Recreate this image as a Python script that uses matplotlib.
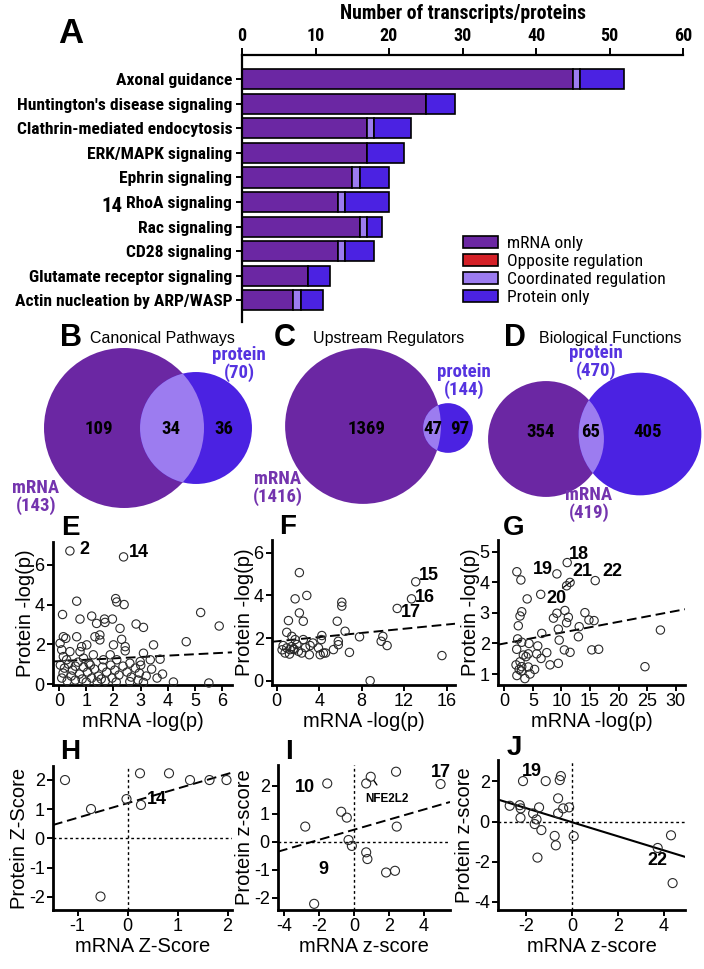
import numpy as np
import matplotlib
matplotlib.use('Agg')
import matplotlib.pyplot as plt
from matplotlib.patches import Circle, Patch
import matplotlib.font_manager as fm
from matplotlib.font_manager import FontProperties

# ---------------- data ----------------
pathways = ["Axonal guidance", "Huntington's disease signaling", "Clathrin-mediated endocytosis",
            "ERK/MAPK signaling", "Ephrin signaling", "RhoA signaling", "Rac signaling",
            "CD28 signaling", "Glutamate receptor signaling", "Actin nucleation by ARP/WASP"]
mrna_only = [45, 25, 17, 17, 15, 13, 16, 13, 9, 7]
opposite = [0, 0, 0, 0, 0, 0, 0, 0, 0, 0]
coordinated = [1, 0, 1, 0, 1, 1, 1, 1, 0, 1]
protein_only = [6, 4, 5, 5, 4, 6, 2, 4, 3, 3]
series_names = ["mRNA only", "Opposite regulation", "Coordinated regulation", "Protein only"]
bar_ticks = [0, 10, 20, 30, 40, 50, 60]

venn_letters = ["B", "C", "D"]
venn_titles = ["Canonical Pathways", "Upstream Regulators", "Biological Functions"]
venn_mrna_only = [109, 1369, 354]
venn_both = [34, 47, 65]
venn_protein_only = [36, 97, 405]
venn_mrna_total = [143, 1416, 419]
venn_protein_total = [70, 144, 470]

e_x = [0.40, 2.37, 0.65, 2.08, 2.12, 2.39, 0.13, 0.77, 1.20, 1.38, 1.67, 1.69, 1.96, 2.24, 2.83, 3.10,
       5.20, 5.88, 4.67, 3.47, 0.16, 0.25, 0.65, 1.32, 1.50, 1.50, 2.30, 2.00, 2.43, 2.43,
       0.04, 0.10, 0.40, 0.83, 0.77, 1.02, 1.26, 3.10, 3.71, 3.35, 2.98, 1.88, 2.12, 0.16, 0.28, 0.90, 1.63,
       0.05, 0.20, 0.35, 0.50, 0.60, 0.75, 0.90, 1.05, 1.15, 1.30, 1.45, 1.60, 1.75, 1.90, 2.05, 2.20,
       2.35, 2.50, 2.65, 2.80, 2.95, 3.20, 3.40, 3.60, 3.80, 0.10, 0.30, 0.45, 0.60, 0.85, 1.00, 1.20,
       1.40, 1.55, 1.70, 1.95, 2.10, 2.60, 2.90, 3.10, 4.20, 5.50, 0.15, 0.70, 1.10, 2.60, 3.00]
e_y = [6.70, 6.40, 4.17, 4.30, 4.13, 4.00, 3.50, 3.27, 3.42, 3.05, 3.27, 3.10, 3.27, 2.80, 3.02, 2.85,
       3.60, 2.92, 2.13, 1.97, 2.38, 2.30, 2.38, 2.38, 2.47, 2.22, 2.25, 1.97, 1.88, 1.67,
       2.05, 1.72, 1.63, 1.88, 1.63, 1.97, 1.47, 1.55, 1.25, 1.22, 1.13, 1.47, 1.22, 1.38, 1.22, 1.30, 1.22,
       0.95, 0.80, 1.00, 0.70, 0.90, 0.50, 0.85, 0.60, 0.95, 0.75, 0.40, 0.85, 0.60, 0.95, 0.70, 0.45,
       0.90, 0.60, 0.35, 0.80, 0.55, 0.40, 0.75, 0.30, 0.50, 0.30, 0.15, 0.40, 0.20, 0.25, 0.10, 0.30,
       0.10, 0.25, 0.15, 0.30, 0.10, 0.12, 0.20, 0.08, 0.10, 0.05, 0.55, 1.10, 1.05, 1.05, 0.95]

f_x = [13.1, 12.7, 11.35, 2.13, 1.73, 2.83, 2.13, 6.13, 6.13, 1.10, 2.50, 5.70, 0.94, 6.44, 1.42, 1.73,
       2.50, 4.25, 4.20, 5.80, 7.80, 10.0, 9.84, 10.4, 0.94, 0.78, 1.25, 1.63, 2.04, 2.35, 3.14, 3.40,
       3.93, 4.40, 3.07, 4.09, 4.60, 5.34, 5.80, 6.85, 15.57, 1.57, 8.8, 1.40, 1.90, 0.60, 2.70, 1.20, 0.50]
f_y = [4.64, 3.84, 3.39, 5.07, 3.84, 4.00, 3.18, 3.68, 3.50, 2.82, 2.79, 2.79, 2.27, 2.32, 2.08, 1.93,
       1.93, 2.12, 1.93, 1.85, 2.06, 2.08, 1.85, 1.65, 1.54, 1.30, 1.46, 1.46, 1.38, 1.30, 1.65, 1.77,
       1.54, 1.30, 1.22, 1.22, 1.30, 1.46, 1.69, 1.33, 1.18, 1.50, 0.0, 1.60, 1.70, 1.65, 1.55, 1.25, 1.45]

g_x = [11.0, 9.2, 2.2, 2.9, 11.5, 10.9, 15.9, 6.37, 4.0, 3.05, 2.75, 2.45, 9.2, 10.6, 8.6, 11.2, 10.9,
       14.1, 14.8, 15.7, 9.45, 13.1, 6.55, 9.6, 12.96, 2.34, 3.05, 4.33, 5.85, 2.17, 3.33, 4.2, 5.67,
       7.43, 10.5, 11.5, 15.3, 16.5, 27.3, 6.43, 2.75, 3.8, 2.05, 3.05, 8.0, 9.45, 24.6, 4.2,
       2.2, 3.0, 3.6, 2.6, 4.5, 5.3]
g_y = [4.65, 4.28, 4.35, 4.08, 4.00, 3.89, 4.06, 3.61, 3.46, 3.04, 2.90, 2.58, 2.99, 3.08, 2.83, 2.86, 2.68,
       3.01, 2.77, 2.75, 2.47, 2.55, 2.33, 2.11, 2.22, 2.15, 2.04, 2.00, 1.92, 1.81, 1.62, 1.66, 1.66,
       1.70, 1.79, 1.71, 1.79, 1.81, 2.44, 1.51, 1.40, 1.57, 1.30, 1.24, 1.30, 1.35, 1.24, 1.23,
       0.95, 1.10, 0.85, 1.15, 1.00, 1.15]

h_x = [-1.25, -0.73, -0.54, -0.02, 0.27, 0.25, 0.83, 1.25, 1.64, 1.98]
h_y = [1.99, 1.00, -1.99, 1.34, 1.14, 2.22, 2.22, 1.99, 1.99, 1.99]

i_x = [-1.54, -2.80, -0.74, -0.42, -0.32, -0.13, -2.29, 0.69, 0.95, 2.40, 4.95, 2.44, 0.69, 0.76, 1.83, 2.34]
i_y = [2.08, 0.54, 1.07, 0.86, 0.06, -0.15, -2.22, 2.08, 2.32, 2.50, 2.06, 0.54, -0.38, -0.62, -1.10, -1.04]

j_x = [-2.14, -1.15, -0.49, -0.54, -0.61, -2.72, -2.28, -2.24, -1.44, -1.70, -0.39, -0.13, -0.61, -2.25,
       -1.55, -1.63, -1.34, -0.76, -0.71, -1.51, 0.07, 3.73, 4.31, 4.38]
j_y = [2.02, 2.02, 2.27, 2.07, 1.16, 0.79, 0.82, 0.66, 0.71, 0.41, 0.66, 0.71, 0.41, 0.19,
       0.11, -0.12, -0.42, -0.71, -1.18, -1.79, -0.72, -1.31, -0.68, -3.06]

# trend lines (intercept, slope)
trend_e = (1.15, 0.07)
trend_f = (1.85, 0.049)
trend_g = (2.0, 0.0355)
trend_h = (1.2, 0.5)
trend_i = (0.43, 0.18)
trend_j = (-0.03, -0.35)

# ---------------- style ----------------
W, H = 704, 969
SANS = 'Liberation Sans'
plt.rcParams['font.family'] = [SANS, 'DejaVu Sans']


def pick_narrow():
    fl = fm.fontManager.ttflist
    names = {f.name for f in fl}
    for p in ['Liberation Sans Narrow', 'Arial Narrow', 'Roboto Condensed', 'Noto Sans Condensed',
              'Open Sans Condensed', 'DejaVu Sans Condensed']:
        if p in names:
            return dict(family=p), 1.0
    for f in fl:
        if any(k in f.name for k in ('Narrow', 'Condensed')):
            return dict(family=f.name), 1.0
    for f in fl:
        if f.stretch in ('condensed', 'semi-condensed') and f.weight in ('bold', 700):
            return dict(family=f.name, stretch=f.stretch), 1.0
    return dict(family=SANS), 0.86


NARROW_KW, NSCALE = pick_narrow()


def nf(size, weight='bold'):
    return FontProperties(size=size * NSCALE, weight=weight, **NARROW_KW)


C_MRNA = '#6B27A3'
C_OPP = '#D42027'
C_COORD = '#9C7CF0'
C_PROT = '#4B22E2'
C_MRNA_TXT = '#7434AE'
C_PROT_TXT = '#5533E0'

fig = plt.figure(figsize=(W / 100, H / 100), dpi=100)


def ax_px(l, t, r, b):
    a = fig.add_axes([l / W, 1 - b / H, (r - l) / W, (b - t) / H])
    a.set_facecolor('none')
    return a


# ---------------- panel A ----------------
axa = ax_px(242, 55, 683, 322)
ypos = np.arange(len(pathways))
left = np.zeros(len(pathways))
for vals, col in zip([mrna_only, opposite, coordinated, protein_only], [C_MRNA, C_OPP, C_COORD, C_PROT]):
    vals = np.array(vals, dtype=float)
    axa.barh(ypos, vals, left=left, height=0.82, color=col, edgecolor='black', linewidth=1.2)
    left += vals
axa.set_xlim(0, 60)
axa.set_ylim(9.88, -0.98)
axa.xaxis.tick_top()
axa.xaxis.set_label_position('top')
axa.set_xticks(bar_ticks)
axa.set_yticks(ypos)
axa.set_yticklabels(pathways, fontproperties=nf(12.6))
for lab in axa.get_xticklabels():
    lab.set_fontproperties(nf(13))
axa.set_xlabel('Number of transcripts/proteins', fontproperties=nf(14.2), labelpad=6)
for s in ['bottom', 'right']:
    axa.spines[s].set_visible(False)
for s in ['top', 'left']:
    axa.spines[s].set_linewidth(1.6)
axa.tick_params(axis='x', length=5, width=1.4, pad=2)
axa.tick_params(axis='y', length=4, width=1.4, pad=3)

handles = [Patch(facecolor=c, edgecolor='black', linewidth=1.2, label=n)
           for c, n in zip([C_MRNA, C_OPP, C_COORD, C_PROT], series_names)]
fig.legend(handles=handles, loc='upper left', bbox_to_anchor=(463 / W, 1 - 236 / H), frameon=False,
           prop=nf(12.6, 'normal'), handlelength=2.0, handleheight=0.65,
           handletextpad=0.5, labelspacing=0.18, borderaxespad=0, borderpad=0)

# ---------------- overlay for Venn & letters ----------------
axo = fig.add_axes([0, 0, 1, 1], zorder=10)
axo.set_xlim(0, W)
axo.set_ylim(H, 0)
axo.axis('off')
axo.set_facecolor('none')

venn_mrna_c = [(124, 428), (363, 426), (546, 439)]
venn_prot_c = [(196, 428), (448, 428), (640, 434)]
venn_k = [6.69, 2.07, 2.83]
venn_letter_xy = [(71, 338), (285, 338), (515, 338)]
venn_title_xy = [(162, 338), (389, 338), (610, 338)]
venn_prot_lab_xy = [(239, 364), (464, 381), (596, 362)]
venn_mrna_lab_xy = [(36, 497), (278, 488), (589, 504)]
venn_num_x = [(99, 171, 224), (367, 433, 460), (541, 591, 648)]
venn_num_y = [429, 429, 432]

for i in range(3):
    rm = venn_k[i] * np.sqrt(venn_mrna_total[i])
    rp = venn_k[i] * np.sqrt(venn_protein_total[i])
    cm = Circle(venn_mrna_c[i], rm, facecolor=C_MRNA, edgecolor='none')
    cp = Circle(venn_prot_c[i], rp, facecolor=C_PROT, edgecolor='none')
    axo.add_patch(cm)
    axo.add_patch(cp)
    ci = Circle(venn_prot_c[i], rp, facecolor=C_COORD, edgecolor='none')
    axo.add_patch(ci)
    ci.set_clip_path(cm)
    axo.text(*venn_letter_xy[i], venn_letters[i], fontsize=22, fontweight='bold', ha='center', va='center')
    axo.text(*venn_title_xy[i], venn_titles[i], fontsize=11.5, ha='center', va='center')
    axo.text(*venn_prot_lab_xy[i], 'protein\n(%d)' % venn_protein_total[i], fontproperties=nf(13.5),
             color=C_PROT_TXT, ha='center', va='center', linespacing=0.9)
    axo.text(*venn_mrna_lab_xy[i], 'mRNA\n(%d)' % venn_mrna_total[i], fontproperties=nf(13.5),
             color=C_MRNA_TXT, ha='center', va='center', linespacing=0.9)
    for xv, v in zip(venn_num_x[i], [venn_mrna_only[i], venn_both[i], venn_protein_only[i]]):
        axo.text(xv, venn_num_y[i], str(v), fontproperties=nf(13.5), ha='center', va='center')

axo.text(71, 33, 'A', fontsize=25, fontweight='bold', ha='center', va='center')
axo.text(112, 206, '14', fontproperties=nf(15), ha='center', va='center')
for lt, (px, py) in zip('EFGHIJ', [(70, 528), (288, 527), (514, 528), (70, 752), (289, 752), (514, 748)]):
    axo.text(px, py, lt, fontsize=20, fontweight='bold', ha='center', va='center')


# ---------------- scatter panels ----------------
def scatter_panel(rect, xs, ys, xlim, ylim, xticks, yticks, xlabel, ylabel, trend,
                  solid=False, ms=6.0, zero_lines=False):
    ax = ax_px(*rect)
    if zero_lines:
        ax.axhline(0, color='black', lw=1.0, ls=(0, (2, 2)), zorder=1)
        ax.axvline(0, color='black', lw=1.0, ls=(0, (2, 2)), zorder=1)
    xx = np.array(xlim)
    if solid:
        ax.plot(xx, trend[0] + trend[1] * xx, color='black', lw=1.5, zorder=2)
    else:
        ax.plot(xx, trend[0] + trend[1] * xx, color='black', lw=1.4, dashes=(5, 2.5), zorder=2)
    ax.scatter(xs, ys, s=ms ** 2, facecolors='none', edgecolors='#2a2a2a', linewidths=0.8,
               clip_on=False, zorder=3)
    ax.set_xlim(*xlim)
    ax.set_ylim(*ylim)
    ax.set_xticks(xticks)
    ax.set_yticks(yticks)
    ax.set_xticklabels([str(t) for t in xticks])
    ax.set_yticklabels([str(t) for t in yticks])
    for s in ['top', 'right']:
        ax.spines[s].set_visible(False)
    for s in ['left', 'bottom']:
        ax.spines[s].set_linewidth(2.0)
    ax.tick_params(labelsize=13, length=4, width=1.4, pad=2)
    ax.set_xlabel(xlabel, fontsize=14.5, labelpad=1)
    ax.set_ylabel(ylabel, fontsize=14.5, labelpad=0)
    return ax


axe = scatter_panel((53, 542, 232, 685), e_x, e_y, (-0.22, 6.35), (-0.05, 7.15), [0, 1, 2, 3, 4, 5, 6],
                    [0, 2, 4, 6], 'mRNA -log(p)', 'Protein -log(p)', trend_e, ms=6.0)
axe.text(0.93, 6.77, '2', fontsize=13, fontweight='bold', ha='center', va='center')
axe.text(2.95, 6.6, '14', fontsize=13, fontweight='bold', ha='center', va='center')

axf = scatter_panel((272, 540, 455, 685), f_x, f_y, (-0.45, 16.8), (-0.2, 6.6), [0, 4, 8, 12, 16],
                    [0, 2, 4, 6], 'mRNA -log(p)', 'Protein -log(p)', trend_f, ms=6.0)
for t, (tx, ty) in zip(['15', '16', '17'], [(14.3, 4.94), (14.0, 3.89), (12.64, 3.19)]):
    axf.text(tx, ty, t, fontsize=13, fontweight='bold', ha='center', va='center')

axg = scatter_panel((498, 540, 685, 685), g_x, g_y, (-1.1, 31.6), (0.64, 5.39), [0, 5, 10, 15, 20, 25, 30],
                    [1, 2, 3, 4, 5], 'mRNA -log(p)', 'Protein -log(p)', trend_g, ms=6.0)
for t, (tx, ty) in zip(['18', '19', '21', '22', '20'],
                       [(12.96, 4.92), (6.83, 4.42), (13.66, 4.36), (18.9, 4.36), (9.18, 3.48)]):
    axg.text(tx, ty, t, fontsize=13, fontweight='bold', ha='center', va='center')
axg.plot([10.2, 12.0], [3.82, 4.07], color='black', lw=0.9)

axh = scatter_panel((53, 766, 232, 910), h_x, h_y, (-1.49, 2.09), (-2.45, 2.47), [-1, 0, 1, 2],
                    [-2, -1, 0, 1, 2], 'mRNA Z-Score', 'Protein Z-Score', trend_h, ms=6.5, zero_lines=True)
axh.text(0.59, 1.31, '14', fontsize=13, fontweight='bold', ha='center', va='center')

axi = scatter_panel((278, 765, 450, 910), i_x, i_y, (-4.36, 5.49), (-2.44, 2.74), [-4, -2, 0, 2, 4],
                    [-2, -1, 0, 1, 2], 'mRNA z-score', 'Protein z-score', trend_i, ms=6.5, zero_lines=True)
for t, (tx, ty) in zip(['10', '17', '9'], [(-2.8, 1.94), (4.95, 2.46), (-1.75, -1.01)]):
    axi.text(tx, ty, t, fontsize=13, fontweight='bold', ha='center', va='center')
axi.annotate('NFE2L2', xy=(1.05, 2.26), xytext=(1.87, 1.51), fontsize=8.5, fontweight='bold',
             ha='center', va='center',
             arrowprops=dict(arrowstyle='-', lw=1.0, color='black', shrinkA=5, shrinkB=2))

axj = scatter_panel((498, 760, 685, 910), j_x, j_y, (-3.23, 4.92), (-4.4, 3.07), [-2, 0, 2, 4],
                    [-4, -2, 0, 2], 'mRNA z-score', 'Protein z-score', trend_j, solid=True, ms=6.5,
                    zero_lines=True)
for t, (tx, ty) in zip(['19', '22'], [(-1.77, 2.49), (3.71, -1.93)]):
    axj.text(tx, ty, t, fontsize=13, fontweight='bold', ha='center', va='center')

fig.savefig('out.png', dpi=100)
